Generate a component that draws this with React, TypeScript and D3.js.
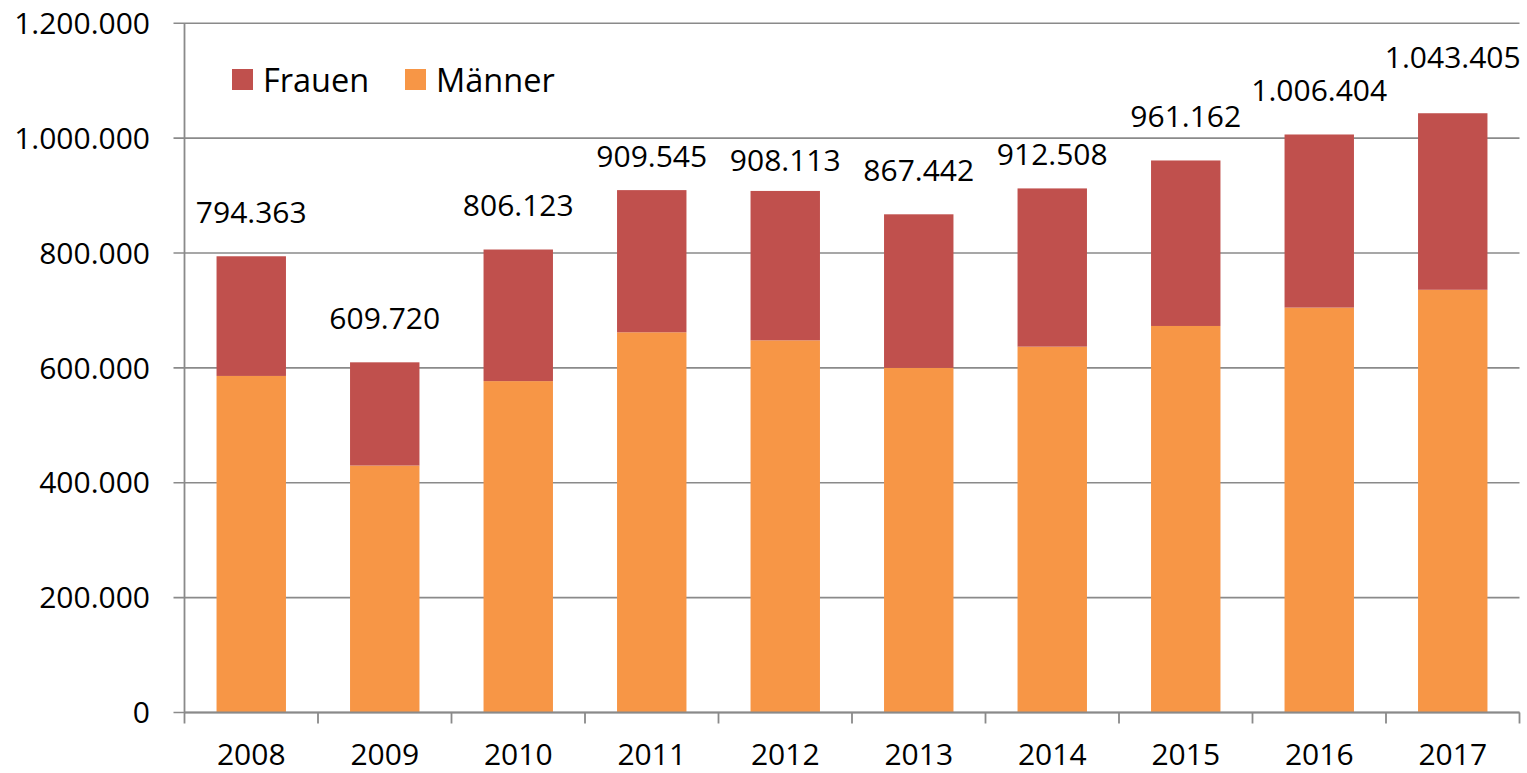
import React from "react";
import * as d3 from "d3";

const years = ["2008", "2009", "2010", "2011", "2012", "2013", "2014", "2015", "2016", "2017"];
const totals = [794363, 609720, 806123, 909545, 908113, 867442, 912508, 961162, 1006404, 1043405];
const totalLabels = ["794.363", "609.720", "806.123", "909.545", "908.113", "867.442", "912.508", "961.162", "1.006.404", "1.043.405"];
const maenner = [586000, 430000, 577000, 662000, 648000, 600000, 637000, 673000, 705000, 736000];
const frauen = [208363, 179720, 229123, 247545, 260113, 267442, 275508, 288162, 301404, 307405];
const yTicks = [0, 200000, 400000, 600000, 800000, 1000000, 1200000];
const seriesNames = ["Frauen", "Männer"];

// layout: vertical lift of each total label above its bar (manually placed in original)
const labelLift = [44, 44, 44, 34, 31, 44, 34, 44, 44, 56];

const W = 1527;
const H = 773;
const FONT = "'Open Sans', sans-serif";
const FS = 30;
const LFS = 32.5;
const C_FRAUEN = "#C0504D";
const C_MAENNER = "#F79646";
const AXIS = "#8a8a8a";

function fmt(v: number) {
  return v === 0 ? "0" : d3.format(",")(v).replace(/,/g, ".");
}

export default function App() {
  const left = 184.5;
  const right = 1519.5;
  const top = 23.3;
  const bottom = 712.5;

  const x = d3.scaleBand<string>().domain(years).range([left, right]).paddingInner(0.48).paddingOuter(0.24);
  const xb = d3.scaleBand<string>().domain(years).range([left, right]);
  const y = d3.scaleLinear().domain([0, 1200000]).range([bottom, top]);

  const stack = d3.stack<any>().keys(["m", "f"]);
  const rows = years.map((yr, i) => ({ yr, m: maenner[i], f: frauen[i] }));
  const series = stack(rows);

  const capHalf = FS * 0.357;

  return (
    <svg width={W} height={H} style={{ position: "absolute", left: 0, top: 0, background: "#fff" }} fontFamily={FONT}>
      <rect x={0} y={0} width={W} height={H} fill="#fff" />
      {/* gridlines */}
      {yTicks.map((t) => (
        <line key={"g" + t} x1={left - 11} x2={right} y1={y(t)} y2={y(t)} stroke={AXIS} strokeWidth={1.6} />
      ))}
      {/* y tick labels */}
      {yTicks.map((t) => (
        <text key={"yl" + t} x={150} y={y(t) + capHalf} textAnchor="end" fontSize={FS} fill="#000">
          {fmt(t)}
        </text>
      ))}
      {/* bars */}
      {series.map((s, si) => (
        <g key={si} fill={si === 0 ? C_MAENNER : C_FRAUEN}>
          {s.map((d: any, i: number) => (
            <rect key={i} x={x(years[i])} width={x.bandwidth()} y={y(d[1])} height={y(d[0]) - y(d[1])} />
          ))}
        </g>
      ))}
      {/* y axis */}
      <line x1={left} x2={left} y1={top} y2={bottom + 11} stroke={AXIS} strokeWidth={1.8} />
      {/* x axis */}
      <line x1={left} x2={right} y1={bottom} y2={bottom} stroke={AXIS} strokeWidth={1.8} />
      {years.map((yr) => (
        <line key={"xt" + yr} x1={(xb(yr) as number) + xb.bandwidth()} x2={(xb(yr) as number) + xb.bandwidth()} y1={bottom} y2={bottom + 11} stroke={AXIS} strokeWidth={1.8} />
      ))}
      {years.map((yr) => (
        <text key={"xl" + yr} x={(xb(yr) as number) + xb.bandwidth() / 2} y={754 + capHalf} textAnchor="middle" fontSize={FS} fill="#000">
          {yr}
        </text>
      ))}
      {/* total labels */}
      {years.map((yr, i) => (
        <text key={"tl" + yr} x={(x(yr) as number) + x.bandwidth() / 2} y={y(totals[i]) - labelLift[i] + capHalf} textAnchor="middle" fontSize={FS} fill="#000">
          {totalLabels[i]}
        </text>
      ))}
      {/* legend */}
      <rect x={232} y={69} width={21} height={21} fill={C_FRAUEN} />
      <text x={263} y={80 + LFS * 0.357} fontSize={LFS} fill="#000">{seriesNames[0]}</text>
      <rect x={405} y={69} width={21} height={21} fill={C_MAENNER} />
      <text x={436} y={80 + LFS * 0.357} fontSize={LFS} fill="#000">{seriesNames[1]}</text>
    </svg>
  );
}
